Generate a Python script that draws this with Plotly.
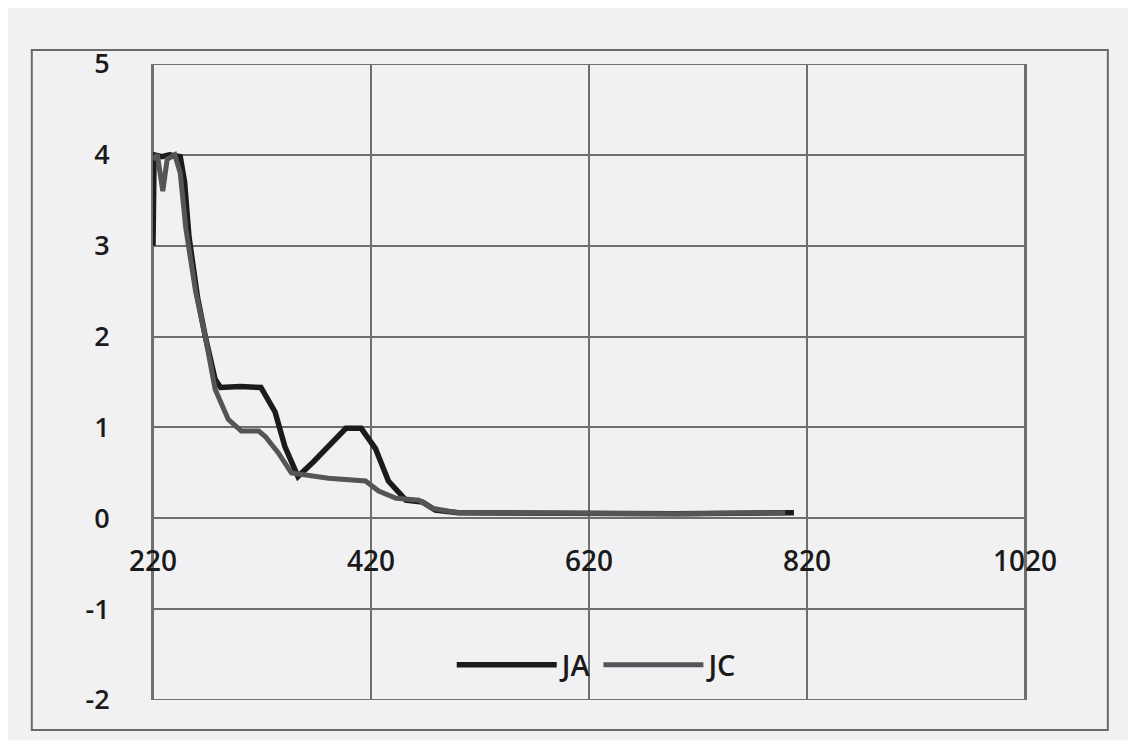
import plotly.graph_objects as go

ja_x = [220, 221, 228, 235, 245, 249, 253, 259, 261, 268, 277, 282, 300, 319, 332, 341, 353, 367, 381, 397, 411, 424, 436, 452, 467, 479, 500, 600, 700, 808]
ja_y = [3.0, 4.0, 3.98, 4.0, 3.98, 3.7, 3.1, 2.64, 2.42, 2.0, 1.53, 1.44, 1.45, 1.44, 1.17, 0.79, 0.46, 0.62, 0.80, 0.99, 0.99, 0.77, 0.41, 0.20, 0.18, 0.09, 0.06, 0.05, 0.05, 0.06]

jc_x = [220, 224, 229, 233, 240, 245, 250, 259, 268, 277, 289, 301, 317, 323, 335, 347, 381, 415, 427, 443, 464, 476, 500, 600, 700, 800]
jc_y = [3.95, 4.0, 3.6, 3.95, 4.0, 3.8, 3.2, 2.5, 2.0, 1.42, 1.09, 0.96, 0.96, 0.9, 0.72, 0.5, 0.44, 0.41, 0.30, 0.22, 0.20, 0.11, 0.06, 0.05, 0.05, 0.06]

x_ticks = [220, 420, 620, 820, 1020]
y_ticks = [-2, -1, 0, 1, 2, 3, 4, 5]

fig = go.Figure()
fig.add_trace(go.Scatter(x=ja_x, y=ja_y, mode="lines", name="JA",
                         line=dict(color="#1b1b1b", width=5.5)))
fig.add_trace(go.Scatter(x=jc_x, y=jc_y, mode="lines", name="JC",
                         line=dict(color="#555558", width=5)))

fig.update_layout(
    width=1136, height=740,
    margin=dict(l=145, r=119, t=56, b=48),
    paper_bgcolor="#f1f1f4", plot_bgcolor="#f1f1f4",
    font=dict(family="Open Sans", color="#1a1a1a"),
    showlegend=True,
    legend=dict(orientation="h", x=0.51, y=0.055, xanchor="center", yanchor="middle",
                bgcolor="rgba(0,0,0,0)", itemwidth=100,
                font=dict(size=29, family="Open Sans", color="#1a1a1a", weight=600)),
    shapes=[dict(type="rect", xref="paper", yref="paper",
                 x0=-0.139, x1=1.095, y0=-0.047, y1=1.022,
                 line=dict(color="#6a6a6a", width=2))],
)
fig.update_xaxes(range=[220, 1020], tickvals=x_ticks, ticktext=[str(v) for v in x_ticks],
                 showgrid=True, gridcolor="#6f6f6f", gridwidth=1.5,
                 zeroline=False, showline=False,
                 anchor="free", position=(0 - (-2)) / 7,
                 ticks="", ticklabelstandoff=24,
                 tickfont=dict(size=28, family="Open Sans", color="#1a1a1a", weight=650))
fig.update_yaxes(range=[-2, 5], tickvals=y_ticks, ticktext=[str(v) for v in y_ticks],
                 showgrid=True, gridcolor="#6f6f6f", gridwidth=1.5,
                 zeroline=False, showline=True, mirror=True, linecolor="#6f6f6f", linewidth=2,
                 ticks="", ticklabelstandoff=36,
                 tickfont=dict(size=27, family="Open Sans", color="#1a1a1a", weight=650))
fig.add_shape(type="rect", xref="x", yref="y", x0=220, x1=1020, y0=-2, y1=5,
              line=dict(color="#6f6f6f", width=2), layer="below")

fig.write_html("out.html")
